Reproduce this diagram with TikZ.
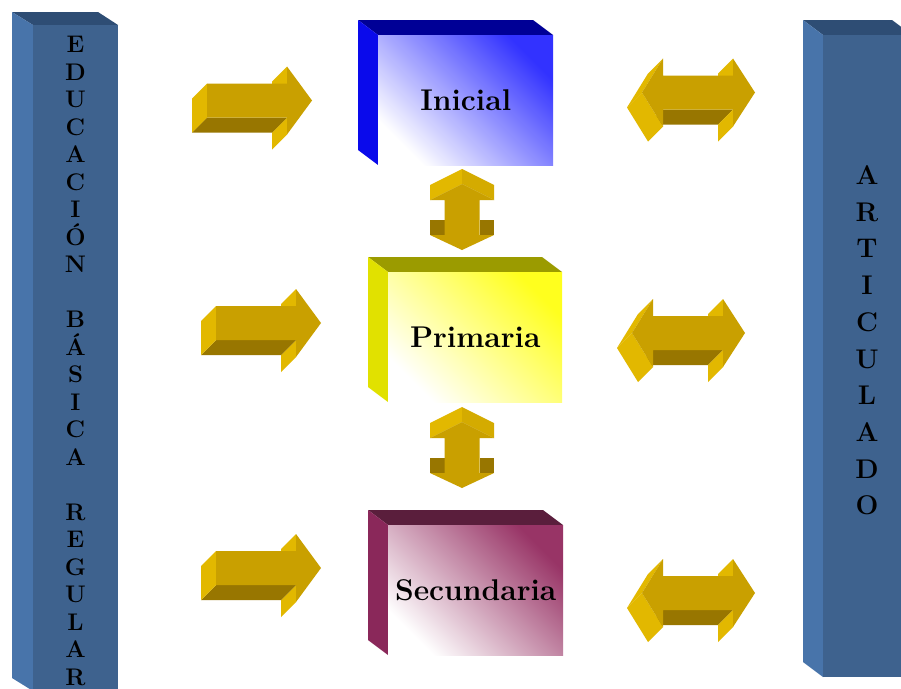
\documentclass[tikz,border=0pt]{standalone}
\usepackage{fontspec}
\definecolor{barfront}{RGB}{62,98,142}
\definecolor{barside}{RGB}{72,116,170}
\definecolor{bartop}{RGB}{46,77,116}
\definecolor{goldfront}{RGB}{201,160,0}
\definecolor{goldlight}{RGB}{226,184,0}
\definecolor{goldmid}{RGB}{212,171,0}
\definecolor{golddark}{RGB}{152,118,0}
\definecolor{iniside}{RGB}{10,10,235}
\definecolor{initop}{RGB}{0,0,150}
\definecolor{inicol}{RGB}{50,50,255}
\definecolor{priside}{RGB}{225,225,0}
\definecolor{pritop}{RGB}{155,155,0}
\definecolor{pricol}{RGB}{255,255,30}
\definecolor{secside}{RGB}{138,40,90}
\definecolor{sectop}{RGB}{90,30,60}
\definecolor{seccol}{RGB}{152,52,102}
\tikzset{
  barletter/.style={anchor=base, inner sep=0pt, text=black, font=\bfseries\fontsize{24}{28}\selectfont},
  barletterR/.style={anchor=base, inner sep=0pt, text=black, font=\bfseries\fontsize{27}{31}\selectfont},
  levelbox/.style={inner sep=0pt, minimum width=175pt, minimum height=130pt, anchor=north west,
     font=\bfseries\fontsize{30}{34}\selectfont, text height=20.5pt, text depth=0pt},
}
\newcommand{\goldright}[2]{%
  \begin{scope}[shift={(#1,#2)}]
    \fill[goldlight] (80,-34) -- (80,-17) -- (65,-2) -- (65,-19) -- cycle;
    \fill[goldlight] (80,17) -- (80,34) -- (65,49) -- (65,32) -- cycle;
    \fill[golddark] (0,17) -- (80,17) -- (65,32) -- (-15,32) -- cycle;
    \fill[goldlight] (0,-17) -- (0,17) -- (-15,32) -- (-15,-2) -- cycle;
    \fill[goldfront] (0,-17) -- (80,-17) -- (80,-34) -- (105,0) -- (80,34) -- (80,17) -- (0,17) -- cycle;
  \end{scope}}
\newcommand{\goldboth}[2]{%
  \begin{scope}[shift={(#1,#2)}]
    \fill[golddark] (21,17) -- (91,17) -- (76,32) -- (6,32) -- cycle;
    \fill[goldlight] (91,-34) -- (91,-17) -- (76,-2) -- (76,-19) -- cycle;
    \fill[goldlight] (91,17) -- (91,34) -- (76,49) -- (76,32) -- cycle;
    \fill[goldlight] (0,0) -- (21,34) -- (6,49) -- (-15,15) -- cycle;
    \fill[goldlight] (0,0) -- (21,-34) -- (6,-19) -- (-15,15) -- cycle;
    \fill[goldfront] (0,0) -- (21,-34) -- (21,-17) -- (91,-17) -- (91,-34) -- (113,0) -- (91,34) -- (91,17) -- (21,17) -- (21,34) -- cycle;
  \end{scope}}
\newcommand{\goldvert}[2]{%
  \begin{scope}[shift={(#1,#2)}]
    \fill[goldlight] (0,0) -- (-32,16) -- (-32,1) -- (0,-15) -- cycle;
    \fill[goldmid] (0,0) -- (32,16) -- (32,1) -- (0,-15) -- cycle;
    \fill[golddark] (-32,51) -- (-17.5,51) -- (-17.5,36) -- (-32,36) -- cycle;
    \fill[golddark] (32,51) -- (17.5,51) -- (17.5,36) -- (32,36) -- cycle;
    \fill[goldfront] (0,0) -- (32,16) -- (17.5,16) -- (17.5,51) -- (32,51) -- (0,66) -- (-32,51) -- (-17.5,51) -- (-17.5,16) -- (-32,16) -- cycle;
  \end{scope}}
\begin{document}
\begin{tikzpicture}[x=1pt,y=-1pt]
\useasboundingbox (0,0) rectangle (901,688);
\fill[white] (0,0) rectangle (901,688);

% left bar
\fill[bartop] (12,12) -- (98,12) -- (118,25) -- (33,25) -- cycle;
\fill[barside] (12,12) -- (33,25) -- (33,691) -- (12,678) -- cycle;
\node[name=leftbar, fill=barfront, inner sep=0pt, minimum width=85pt, minimum height=675pt, anchor=north west] at (33,25) {};
\foreach \l [count=\k from 0] in {E,D,U,C,A,C,I,Ó,N,{},B,Á,S,I,C,A,{},R,E,G,U,L,A,R}
  \node[barletter, name=lt\k] at (75.5,{52.5+27.5*\k}) {\l};

% right bar
\fill[bartop] (803,20) -- (892,20) -- (912,35) -- (823,35) -- cycle;
\fill[barside] (803,20) -- (823,35) -- (823,677) -- (803,662) -- cycle;
\node[name=rightbar, fill=barfront, inner sep=0pt, minimum width=89pt, minimum height=642pt, anchor=north west] at (823,35) {};
\foreach \l [count=\k from 0] in {A,R,T,I,C,U,L,A,D,O}
  \node[barletterR, name=rt\k] at (867,{184.5+36.7*\k}) {\l};

% Inicial
\fill[initop] (358,20) -- (533,20) -- (553,35) -- (378,35) -- cycle;
\fill[iniside] (358,20) -- (378,35) -- (378,165) -- (358,150) -- cycle;
\node[levelbox, name=inicial, top color=inicol, bottom color=white, shading angle=-45] at (378,35) {Inicial};

% Primaria
\fill[pritop] (368,257) -- (542,257) -- (562,272) -- (388,272) -- cycle;
\fill[priside] (368,257) -- (388,272) -- (388,402) -- (368,387) -- cycle;
\node[levelbox, name=primaria, minimum width=174pt, top color=pricol, bottom color=white, shading angle=-45] at (388,272) {Primaria};

% Secundaria
\fill[sectop] (368,510) -- (543,510) -- (563,525) -- (388,525) -- cycle;
\fill[secside] (368,510) -- (388,525) -- (388,655) -- (368,640) -- cycle;
\node[levelbox, name=secundaria, top color=seccol, bottom color=white, shading angle=-45] at (388,525) {Secundaria};

% arrows
\goldright{207}{100.5}
\goldright{216}{323}
\goldright{216}{568}
\goldboth{642}{92.5}
\goldboth{632}{333}
\goldboth{642}{593}
\goldvert{462}{184}
\goldvert{462}{422}
\end{tikzpicture}
\end{document}
